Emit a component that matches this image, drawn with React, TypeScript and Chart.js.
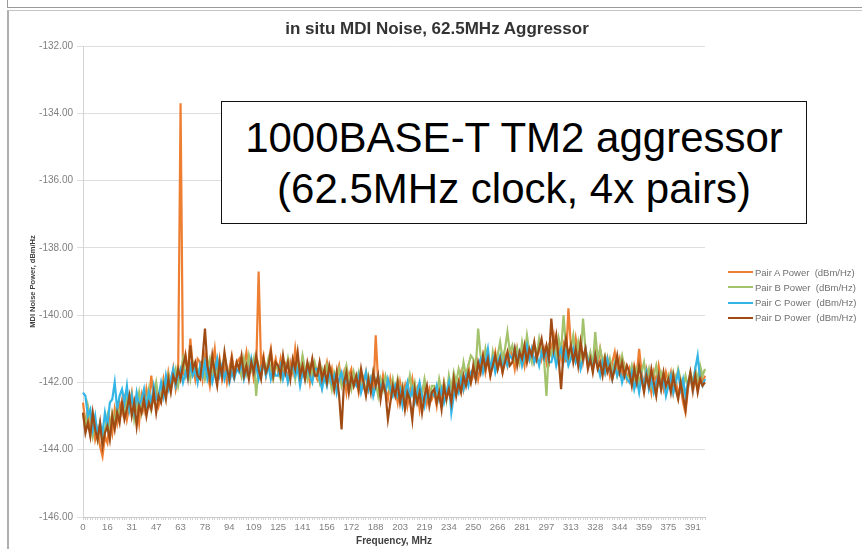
import React, { useEffect, useRef } from 'react';
import { Chart, registerables } from 'chart.js';

Chart.register(...registerables);

// Frequency tick labels (MHz), one every 10th sample (1.5625 MHz step)
const TICK_LABELS = ['0', '16', '31', '47', '63', '78', '94', '109', '125', '141', '156', '172', '188', '203', '219', '234', '250', '266', '281', '297', '313', '328', '344', '359', '375', '391'];
const TICK_EVERY = 10;
const Y_MIN = -146;
const Y_MAX = -132;
const Y_STEP = 2;

const SERIES_NAMES = ['Pair A Power  (dBm/Hz)', 'Pair B Power  (dBm/Hz)', 'Pair C Power  (dBm/Hz)', 'Pair D Power  (dBm/Hz)'];
const SERIES_COLORS = ['#EE7E32', '#A3C26C', '#33B6E6', '#A04B14'];

const PAIR_A = [
  -142.6, -143.2, -142.9, -143.5, -143.1, -143.7, -143.4, -143.9, -144.2, -143.6, -143.8, -143.1, -143.5, -142.8, -143.2, -142.6,
  -142.9, -142.5, -143.1, -142.7, -142.3, -142.9, -142.6, -143.2, -142.4, -142.8, -142.2, -142.6, -141.8, -142.5, -142.3, -142.7,
  -142.4, -141.9, -142.3, -141.7, -142.1, -141.6, -142.2, -141.8, -133.7, -141.8, -141.2, -141.7, -140.7, -141.5, -141.9, -141.3,
  -141.4, -141.9, -141.2, -141.7, -142.1, -141.5, -141.0, -141.8, -141.3, -141.9, -141.5, -142.0, -141.6, -141.2, -141.7, -141.4,
  -141.3, -141.8, -141.5, -141.1, -141.7, -141.4, -141.9, -141.6, -138.7, -141.5, -141.2, -141.8, -141.4, -141.0, -141.6, -141.3,
  -141.7, -141.3, -141.8, -141.5, -141.9, -141.4, -141.7, -141.0, -141.6, -141.9, -141.3, -141.8, -141.5, -142.0, -141.4, -141.7,
  -141.9, -141.5, -142.1, -141.7, -141.4, -141.9, -141.6, -142.2, -141.8, -141.5, -142.0, -141.7, -142.3, -141.8, -141.6, -142.1,
  -141.9, -142.3, -141.8, -142.1, -141.7, -142.2, -141.9, -142.4, -140.6, -142.0, -142.3, -141.8, -142.2, -142.5, -141.9, -142.3,
  -142.2, -142.6, -142.0, -142.4, -142.1, -142.7, -142.3, -141.9, -142.5, -142.2, -142.8, -142.3, -142.0, -142.6, -142.2, -142.5,
  -142.3, -142.7, -142.1, -142.5, -142.0, -142.4, -142.2, -142.6, -141.9, -142.3, -142.0, -141.7, -142.2, -141.8, -141.5, -142.0,
  -141.8, -141.4, -141.9, -141.5, -141.2, -141.7, -141.3, -141.8, -141.4, -141.1, -141.6, -141.3, -141.7, -141.2, -141.5, -141.0,
  -141.2, -141.6, -141.0, -141.4, -141.1, -141.5, -140.9, -141.3, -141.0, -141.4, -141.1, -140.8, -141.3, -141.0, -141.4, -140.9,
  -141.0, -140.6, -141.2, -140.8, -141.3, -140.9, -141.4, -139.8, -140.9, -141.3, -140.7, -141.2, -140.8, -141.4, -141.0, -141.5,
  -141.2, -141.6, -141.1, -141.5, -141.0, -141.4, -141.7, -141.3, -141.8, -141.4, -141.1, -141.6, -141.3, -141.8, -141.5, -141.9,
  -141.6, -142.0, -141.5, -141.8, -141.0, -141.7, -142.1, -141.6, -141.9, -142.3, -141.7, -142.0, -141.5, -141.9, -142.2, -141.7,
  -142.0, -141.7, -142.3, -141.9, -142.4, -142.1, -142.6, -142.9, -142.2, -141.8, -142.3, -141.9, -142.2, -141.7, -142.0, -141.8,
];

const PAIR_B = [
  -142.9, -143.4, -142.7, -143.1, -143.6, -143.2, -143.7, -143.3, -143.8, -143.4, -143.0, -143.5, -142.9, -143.2, -142.7, -143.0,
  -142.7, -143.0, -142.5, -142.8, -142.4, -143.1, -142.7, -142.3, -142.9, -142.5, -142.6, -142.2, -142.8, -142.4, -142.0, -142.5,
  -142.4, -142.0, -142.3, -141.8, -142.2, -141.9, -141.6, -142.1, -141.7, -141.3, -141.8, -141.5, -141.9, -141.4, -141.7, -141.6,
  -141.7, -141.4, -141.9, -141.6, -141.3, -141.8, -141.5, -141.9, -141.4, -141.7, -141.2, -141.6, -141.8, -141.4, -141.7, -141.5,
  -141.5, -141.8, -141.3, -141.7, -141.2, -141.6, -141.3, -142.4, -141.5, -141.8, -141.4, -141.7, -141.3, -141.6, -141.9, -141.5,
  -141.6, -141.9, -141.4, -141.7, -141.3, -141.8, -141.5, -141.9, -141.4, -141.7, -141.2, -141.6, -141.9, -141.5, -141.8, -141.4,
  -141.7, -142.0, -141.6, -141.9, -141.5, -141.8, -142.2, -141.7, -141.9, -141.6, -142.1, -141.8, -141.5, -141.9, -142.2, -141.7,
  -142.0, -141.7, -142.2, -141.9, -142.3, -141.8, -142.1, -141.7, -142.0, -142.4, -141.9, -142.2, -141.8, -142.1, -142.3, -141.9,
  -142.3, -141.9, -142.4, -142.1, -142.6, -142.2, -141.8, -142.3, -142.0, -142.5, -142.1, -142.4, -141.9, -142.3, -142.6, -142.1,
  -142.1, -142.4, -141.9, -142.3, -142.0, -142.5, -141.8, -142.2, -141.7, -142.0, -141.6, -141.9, -141.4, -141.8, -141.5, -141.2,
  -141.3, -141.6, -140.4, -141.2, -141.5, -141.0, -141.4, -141.7, -141.1, -141.5, -141.2, -140.8, -141.3, -141.0, -140.5, -141.1,
  -140.9, -141.3, -141.0, -141.4, -140.8, -141.2, -140.6, -141.1, -141.4, -140.9, -141.2, -140.7, -141.1, -141.3, -142.4, -141.0,
  -141.2, -140.8, -141.3, -140.7, -141.1, -140.0, -140.9, -141.4, -141.0, -140.6, -141.2, -140.8, -141.3, -140.1, -141.0, -141.4,
  -141.1, -141.5, -140.5, -141.3, -141.0, -141.4, -141.2, -141.6, -141.3, -141.7, -141.4, -141.8, -141.5, -141.2, -141.6, -141.9,
  -141.8, -141.5, -141.9, -141.6, -142.0, -141.7, -141.4, -141.9, -141.6, -142.1, -141.8, -141.5, -142.0, -141.7, -141.9, -142.2,
  -141.8, -142.1, -141.7, -142.0, -141.6, -141.9, -142.2, -141.8, -142.1, -141.7, -142.0, -141.6, -141.9, -141.5, -141.8, -141.6,
];

const PAIR_C = [
  -142.3, -142.4, -143.0, -142.8, -143.4, -143.0, -143.6, -143.2, -143.5, -142.9, -143.3, -142.6, -142.5, -142.0, -142.8, -142.4,
  -142.2, -142.6, -142.1, -142.8, -142.4, -142.9, -142.3, -142.7, -142.5, -142.2, -142.8, -142.3, -142.6, -142.1, -142.5, -142.4,
  -142.0, -142.4, -141.8, -142.2, -141.9, -141.6, -142.1, -141.8, -141.6, -142.0, -141.7, -141.9, -141.5, -141.8, -141.6, -142.0,
  -141.5, -141.8, -141.4, -141.9, -141.6, -142.0, -141.7, -141.3, -141.8, -141.5, -141.9, -141.6, -142.0, -141.7, -141.9, -141.6,
  -141.7, -141.4, -141.9, -141.6, -141.8, -141.3, -141.7, -141.5, -141.9, -141.6, -141.4, -141.8, -141.5, -141.9, -141.6, -141.8,
  -141.8, -141.5, -141.9, -141.6, -142.0, -141.7, -141.4, -141.8, -141.6, -142.1, -141.7, -141.9, -141.5, -141.8, -142.0, -141.6,
  -141.6, -141.9, -142.2, -141.8, -142.1, -141.7, -142.0, -141.8, -142.3, -141.9, -141.7, -142.1, -141.8, -142.2, -141.9, -142.0,
  -142.1, -141.8, -142.3, -142.0, -141.7, -142.2, -141.9, -142.4, -142.1, -141.8, -142.2, -142.0, -142.3, -141.9, -142.2, -142.4,
  -142.1, -142.4, -142.2, -142.7, -142.3, -142.0, -142.5, -142.2, -142.6, -142.3, -142.0, -142.4, -142.7, -142.2, -142.5, -142.3,
  -142.4, -142.1, -142.5, -142.2, -142.6, -142.3, -142.0, -142.9, -142.4, -142.1, -142.3, -141.9, -142.2, -141.8, -142.1, -141.7,
  -141.6, -141.9, -141.5, -141.3, -141.7, -141.4, -141.0, -141.6, -141.3, -141.7, -141.4, -141.2, -141.6, -141.3, -141.5, -141.2,
  -141.3, -141.0, -141.4, -141.1, -141.5, -141.2, -140.9, -141.3, -141.0, -141.4, -141.2, -141.5, -141.1, -141.3, -141.0, -141.4,
  -141.4, -141.1, -141.5, -141.2, -141.0, -141.4, -141.1, -141.5, -141.3, -141.0, -141.4, -141.2, -141.6, -141.3, -141.0, -141.4,
  -141.3, -141.6, -141.2, -141.5, -141.8, -141.4, -141.7, -141.3, -141.6, -141.9, -141.5, -141.8, -141.6, -142.0, -141.7, -141.9,
  -142.0, -141.7, -142.2, -141.9, -142.3, -141.8, -142.1, -141.7, -142.2, -141.9, -142.3, -142.0, -141.8, -142.2, -141.9, -142.4,
  -142.1, -141.8, -142.3, -142.0, -141.7, -142.2, -141.9, -142.4, -142.0, -141.8, -142.2, -141.6, -141.2, -141.9, -142.1, -141.9,
];

const PAIR_D = [
  -142.9, -143.5, -143.2, -143.6, -142.9, -143.4, -143.7, -143.2, -143.9, -143.5, -143.3, -143.7, -143.0, -143.4, -142.9, -143.2,
  -142.6, -143.1, -142.8, -142.4, -143.0, -142.6, -143.3, -142.7, -142.9, -142.5, -143.0, -142.6, -142.8, -142.3, -142.9, -142.4,
  -142.6, -142.1, -142.5, -141.9, -142.3, -141.8, -142.0, -141.6, -141.9, -141.5, -141.2, -141.8, -140.9, -141.6, -141.4, -141.8,
  -141.9, -141.3, -140.4, -141.5, -141.9, -141.2, -141.7, -142.1, -141.4, -141.8, -141.1, -141.6, -141.9, -141.3, -141.8, -141.4,
  -141.6, -141.2, -141.8, -141.5, -141.9, -141.4, -141.7, -141.2, -141.6, -141.9, -141.3, -141.7, -141.5, -141.1, -141.8, -141.4,
  -141.5, -141.8, -141.2, -141.7, -141.4, -141.9, -141.3, -141.6, -141.1, -141.8, -141.5, -141.9, -141.4, -141.7, -141.3, -141.8,
  -141.8, -141.4, -141.9, -141.6, -142.0, -141.5, -141.8, -142.2, -141.7, -142.4, -143.4, -142.0, -141.7, -142.3, -141.8, -142.1,
  -141.8, -142.2, -141.6, -142.0, -142.4, -141.9, -142.3, -141.7, -142.1, -141.8, -142.5, -142.0, -142.3, -143.1, -142.6, -142.1,
  -142.4, -142.0, -142.6, -142.2, -142.8, -142.3, -142.5, -143.1, -142.2, -142.6, -142.3, -142.9, -142.4, -142.1, -142.7, -142.3,
  -142.2, -142.6, -142.3, -142.8, -142.1, -142.5, -142.2, -142.6, -141.9, -142.4, -142.0, -142.3, -141.8, -142.1, -141.7, -142.0,
  -141.5, -141.9, -141.4, -141.7, -141.2, -141.6, -141.3, -141.8, -141.5, -141.2, -141.6, -141.3, -141.7, -141.4, -141.1, -141.5,
  -141.4, -141.0, -141.5, -141.1, -141.3, -140.9, -141.4, -141.0, -141.2, -140.8, -141.3, -141.0, -140.7, -141.2, -140.9, -141.3,
  -140.1, -141.0, -140.6, -141.3, -142.2, -141.1, -140.7, -141.2, -140.9, -141.4, -141.0, -141.5, -140.8, -141.3, -141.0, -141.6,
  -141.3, -141.7, -141.2, -141.6, -141.4, -141.8, -141.3, -141.7, -141.5, -141.9, -141.6, -141.2, -141.7, -141.4, -141.8, -141.5,
  -141.7, -142.1, -141.6, -142.0, -141.5, -141.9, -142.3, -141.8, -142.1, -141.6, -142.0, -142.4, -141.8, -142.2, -141.7, -142.1,
  -141.9, -142.3, -141.8, -142.2, -142.5, -142.0, -142.4, -142.8, -142.1, -141.7, -142.2, -141.8, -142.3, -141.9, -142.1, -142.0,
];

const SERIES = [PAIR_A, PAIR_B, PAIR_C, PAIR_D];

const FONT = '"Liberation Sans", Arial, sans-serif';

export default function App() {
  const ref = useRef<HTMLCanvasElement>(null);

  useEffect(() => {
    const categories = PAIR_A.map((_, i) => String(i));
    const chart = new Chart(ref.current as HTMLCanvasElement, {
      type: 'line',
      data: {
        labels: categories,
        datasets: SERIES.map((values, k) => ({
          label: SERIES_NAMES[k],
          data: values,
          borderColor: SERIES_COLORS[k],
          backgroundColor: SERIES_COLORS[k],
          borderWidth: 2.2,
          pointRadius: 0,
          tension: 0,
          fill: false,
          order: 3 - k,
        })),
      },
      options: {
        responsive: false,
        animation: false,
        devicePixelRatio: 1,
        layout: { padding: { left: 22, right: 157, top: 46, bottom: 0 } },
        plugins: {
          legend: { display: false },
          tooltip: { enabled: false },
          title: { display: false },
        },
        scales: {
          x: {
            type: 'category',
            offset: false,
            grid: { display: true, drawOnChartArea: false, drawTicks: true, tickLength: 3, color: '#d4d4d4' },
            border: { color: '#c8c8c8' },
            ticks: {
              autoSkip: false,
              maxRotation: 0,
              minRotation: 0,
              padding: 2,
              color: '#808080',
              font: { family: FONT, size: 9.5 },
              callback: (_v: any, i: number) => (i % TICK_EVERY === 0 ? TICK_LABELS[i / TICK_EVERY] : ''),
            },
            title: {
              display: true,
              text: 'Frequency, MHz',
              color: '#404040',
              font: { family: FONT, size: 10, weight: 'bold' },
              padding: { top: 0, bottom: 2 },
            },
            afterFit: (s: any) => { s.height = 32; },
          },
          y: {
            min: Y_MIN,
            max: Y_MAX,
            grid: { color: '#dedede', tickLength: 6 },
            border: { color: '#d4d4d4' },
            ticks: {
              stepSize: Y_STEP,
              padding: 4,
              color: '#808080',
              font: { family: FONT, size: 10 },
              callback: (v: any) => Number(v).toFixed(2),
            },
            title: {
              display: true,
              text: 'MDI Noise Power, dBm/Hz',
              color: '#404040',
              font: { family: FONT, size: 7.5, weight: 'bold' },
              padding: { top: 6, bottom: 0 },
            },
            afterFit: (s: any) => { s.width = 61; },
          },
        },
      },
    });
    return () => chart.destroy();
  }, []);

  return (
    <div style={{ position: 'fixed', left: 0, top: 0, width: 862, height: 549, background: '#fff', overflow: 'hidden' }}>
      <div style={{ position: 'absolute', left: 7, top: 0, width: 855, height: 7, borderLeft: '1px solid #9a9a9a', borderBottom: '1px solid #9a9a9a' }} />
      <div style={{ position: 'absolute', left: 7, top: 10, width: 855, height: 539, borderLeft: '2px solid #b0b0b0', borderTop: '1px solid #c4c4c4' }} />
      <canvas ref={ref} width={862} height={549} style={{ position: 'absolute', left: 0, top: 0, width: 862, height: 549 }} />
      <div style={{ position: 'absolute', left: 0, top: 19, width: 874, textAlign: 'center', font: `bold 17px ${FONT}`, color: '#333', lineHeight: '20px', whiteSpace: 'nowrap' }}>
        in situ MDI Noise, 62.5MHz Aggressor
      </div>
      {SERIES_NAMES.map((name, k) => (
        <div key={name} style={{ position: 'absolute', left: 728, top: 266 + k * 15.3, height: 12, display: 'flex', alignItems: 'center' }}>
          <div style={{ width: 25, height: 2, background: SERIES_COLORS[k] }} />
          <div style={{ marginLeft: 2, font: `9.5px ${FONT}`, color: '#707070', whiteSpace: 'pre' }}>{name}</div>
        </div>
      ))}
      <div style={{ position: 'absolute', left: 221, top: 101, width: 586, height: 123, boxSizing: 'border-box', border: '1.5px solid #111', background: '#fff', display: 'flex', flexDirection: 'column', alignItems: 'center', justifyContent: 'center', font: `42px ${FONT}`, lineHeight: '51px', color: '#000' }}>
        <div>1000BASE-T TM2 aggressor</div>
        <div>(62.5MHz clock, 4x pairs)</div>
      </div>
    </div>
  );
}
